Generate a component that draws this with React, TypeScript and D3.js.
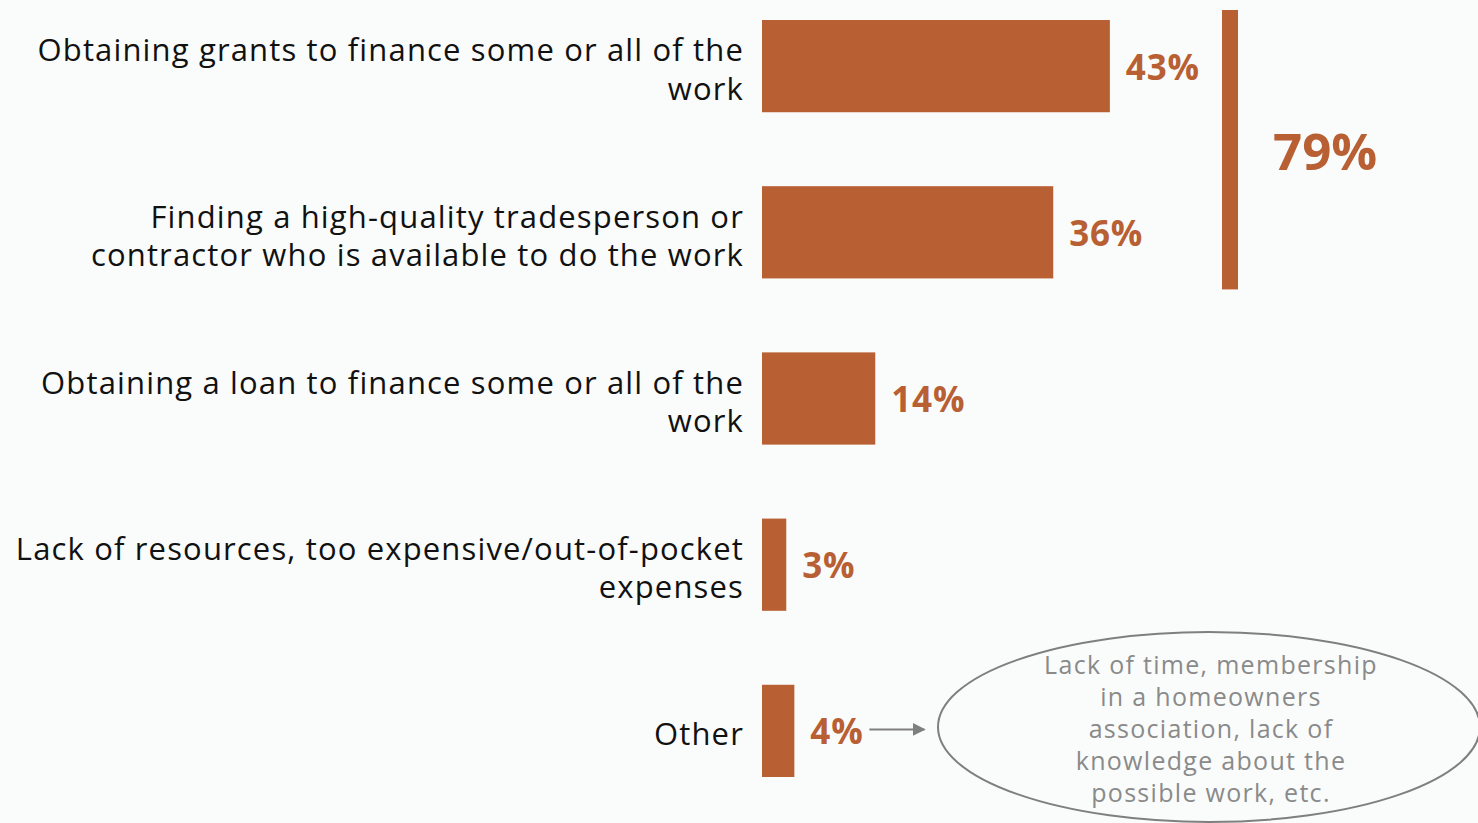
import { useMemo } from "react";
import * as d3 from "d3";

// Chart data
const categories = [
  "grants",
  "tradesperson",
  "loan",
  "resources",
  "other",
];
const labelLines = [
  ["Obtaining grants to finance some or all of the", "work"],
  ["Finding a high-quality tradesperson or", "contractor who is available to do the work"],
  ["Obtaining a loan to finance some or all of the", "work"],
  ["Lack of resources, too expensive/out-of-pocket", "expenses"],
  ["Other"],
];
const values = [43, 36, 14, 3, 4];
const combinedTotal = 79; // first two bars together
const noteLines = [
  "Lack of time, membership",
  "in a homeowners",
  "association, lack of",
  "knowledge about the",
  "possible work, etc.",
];

const W = 1478;
const H = 823;
const BAR = "#b86033";
const BG = "#fafcfb";
const FONT = "'Open Sans', Lato, sans-serif";

export default function App() {
  const x = useMemo(() => d3.scaleLinear().domain([0, 100]).range([762, 762 + 809]), []);
  const y = useMemo(
    () => d3.scaleBand<string>().domain(categories).range([20, 777]).paddingInner(0.445).paddingOuter(0),
    []
  );
  const bw = y.bandwidth();

  const bracketTop = (y(categories[0]) ?? 0) - 10;
  const bracketBot = (y(categories[1]) ?? 0) + bw + 11;

  const lastY = (y(categories[4]) ?? 0) + bw / 2;
  const arrowX0 = x(values[4]) + 75;
  const arrowX1 = arrowX0 + 59;

  const ell = { cx: 1209, cy: 727, rx: 271, ry: 95 };

  return (
    <svg
      width={W}
      height={H}
      style={{ position: "fixed", left: 0, top: 0, display: "block" }}
      fontFamily={FONT}
    >
      <defs>
        <marker
          id="arrowhead"
          viewBox="0 0 10 10"
          refX="9"
          refY="5"
          markerWidth="6.5"
          markerHeight="6.5"
          markerUnits="strokeWidth"
          orient="auto"
        >
          <path d="M0,0 L10,5 L0,10 z" fill="#7f7f7f" />
        </marker>
      </defs>
      <rect width={W} height={H} fill={BG} />

      {categories.map((c, i) => {
        const y0 = y(c) ?? 0;
        const cy = y0 + bw / 2;
        const lines = labelLines[i];
        const lh = 38.5;
        const firstBase = cy - ((lines.length - 1) * lh) / 2 + 14.5;
        return (
          <g key={c}>
            <rect x={x(0)} y={y0} width={x(values[i]) - x(0)} height={bw} fill={BAR} />
            {lines.map((t, j) => (
              <text
                key={j}
                x={744}
                y={firstBase + j * lh}
                textAnchor="end"
                fontSize={31}
                letterSpacing={1.15}
                fill="#111"
              >
                {t}
              </text>
            ))}
            <text
              x={x(values[i]) + 16}
              y={cy + 13.5}
              fontSize={35}
              fontWeight={700}
              letterSpacing={0.8}
              fill={BAR}
            >
              {values[i]}%
            </text>
          </g>
        );
      })}

      {/* bracket for the combined funding share */}
      <rect x={1222} y={bracketTop} width={16} height={bracketBot - bracketTop} fill={BAR} />
      <text x={1273} y={(bracketTop + bracketBot) / 2 + 20} fontSize={51} fontWeight={700} fill={BAR}>
        {combinedTotal}%
      </text>

      {/* callout */}
      <line
        x1={arrowX0}
        y1={lastY - 1.5}
        x2={arrowX1 - 4}
        y2={lastY - 1.5}
        stroke="#7f7f7f"
        strokeWidth={2}
        markerEnd="url(#arrowhead)"
      />
      <ellipse cx={ell.cx} cy={ell.cy} rx={ell.rx} ry={ell.ry} fill="none" stroke="#7f7f7f" strokeWidth={2} />
      {noteLines.map((t, i) => (
        <text
          key={i}
          x={1211}
          y={674 + i * 32}
          textAnchor="middle"
          fontSize={25}
          letterSpacing={1.3}
          fill="#8a8a8a"
        >
          {t}
        </text>
      ))}
    </svg>
  );
}
